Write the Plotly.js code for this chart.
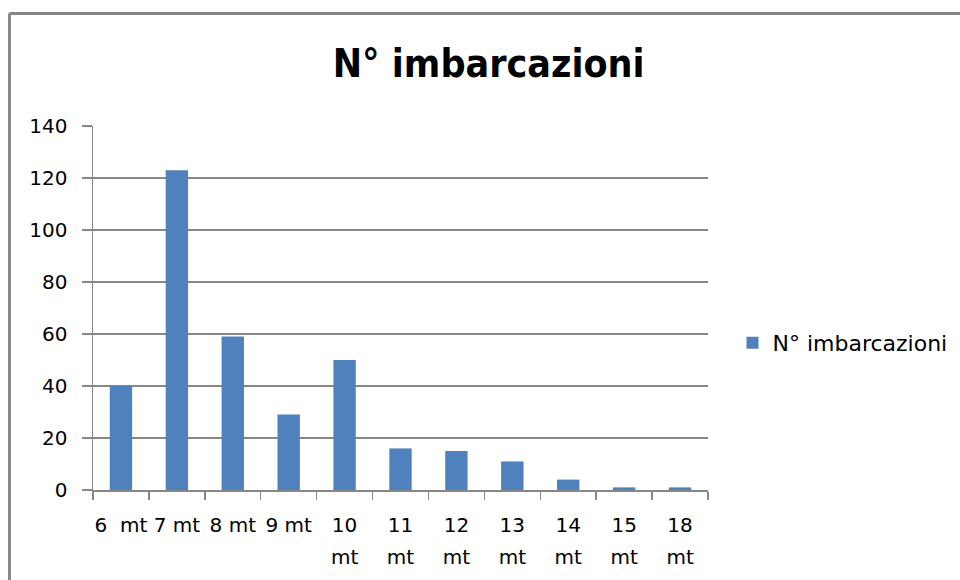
<!DOCTYPE html>
<html>
<head>
<meta charset="utf-8">
<script src="https://cdn.plot.ly/plotly-3.0.1.min.js"></script>
<style>html,body{margin:0;padding:0;background:#fff;}#chart{width:960px;height:580px;}</style>
</head>
<body>
<div id="chart"></div>
<script>
// Data
const categories = ["6 mt","7 mt","8 mt","9 mt","10 mt","11 mt","12 mt","13 mt","14 mt","15 mt","18 mt"];
const values = [40, 123, 59, 29, 50, 16, 15, 11, 4, 1, 1];
const tickLine1 = ["6\u00a0 mt","7 mt","8 mt","9 mt","10","11","12","13","14","15","18"];
const tickLine2 = ["","","","","mt","mt","mt","mt","mt","mt","mt"];
const seriesName = "N° imbarcazioni";
const chartTitle = "N° imbarcazioni";
const yTicks = [0, 20, 40, 60, 80, 100, 120, 140];

const gray = "#878787";
const tickFont = {family: "DejaVu Sans", size: 20, color: "#000"};

const trace = {
  type: "bar",
  x: categories,
  y: values,
  name: seriesName,
  marker: {color: "#4F81BD"},
  width: 0.4,
  showlegend: true
};

const layout = {
  width: 960, height: 580,
  paper_bgcolor: "#fff", plot_bgcolor: "#fff",
  margin: {l: 93, r: 252, t: 126, b: 90, pad: 0},
  title: {
    text: "<b>" + chartTitle + "</b>",
    font: {family: "DejaVu Sans Condensed, Liberation Sans, sans-serif", size: 39, color: "#000"},
    x: 0.509, xref: "container", xanchor: "center",
    y: 0.89, yref: "container", yanchor: "middle"
  },
  showlegend: true,
  legend: {
    xref: "container", yref: "container",
    x: 0.763, y: 0.4086, xanchor: "left", yanchor: "middle",
    font: {family: "DejaVu Sans", size: 22, color: "#000"},
    itemwidth: 30, bgcolor: "rgba(0,0,0,0)"
  },
  xaxis: {
    type: "category",
    tickmode: "array", tickvals: categories, ticktext: tickLine1,
    tickson: "boundaries",
    ticks: "outside", ticklen: 8, tickcolor: gray, tickwidth: 1.5,
    showline: true, linecolor: gray, linewidth: 1.5,
    showgrid: false, zeroline: false,
    tickfont: tickFont, tickangle: 0, ticklabelstandoff: 16,
    range: [-0.5, 10.5], fixedrange: true
  },
  xaxis2: {
    type: "linear", overlaying: "x", anchor: "y", side: "bottom",
    range: [-0.5, 10.5],
    tickmode: "array", tickvals: categories.map((c, i) => i), ticktext: tickLine2,
    ticks: "", showline: false, showgrid: false, zeroline: false,
    tickfont: tickFont, tickangle: 0, ticklabelstandoff: 53
  },
  yaxis: {
    range: [0, 140], tickmode: "array", tickvals: yTicks,
    ticks: "outside", ticklen: 10, tickcolor: gray, tickwidth: 1.5,
    showline: true, linecolor: gray, linewidth: 1.5,
    showgrid: true, gridcolor: gray, gridwidth: 1.5,
    zeroline: false, tickfont: tickFont, ticklabelstandoff: 10,
    fixedrange: true
  },
  shapes: [
    {type: "line", xref: "paper", yref: "paper", x0: -0.1358, x1: 1.42, y0: 1.309, y1: 1.309,
     line: {color: "#888888", width: 3}},
    {type: "line", xref: "paper", yref: "paper", x0: -0.1358, x1: -0.1358, y0: 1.309, y1: -0.3,
     line: {color: "#888888", width: 3}}
  ]
};

// invisible helper trace that activates the second-line tick axis
const helper = {type: "scatter", x: [], y: [], xaxis: "x2", yaxis: "y", showlegend: false, hoverinfo: "skip"};

Plotly.newPlot("chart", [trace, helper], layout, {displayModeBar: false, staticPlot: true});
</script>
</body>
</html>
